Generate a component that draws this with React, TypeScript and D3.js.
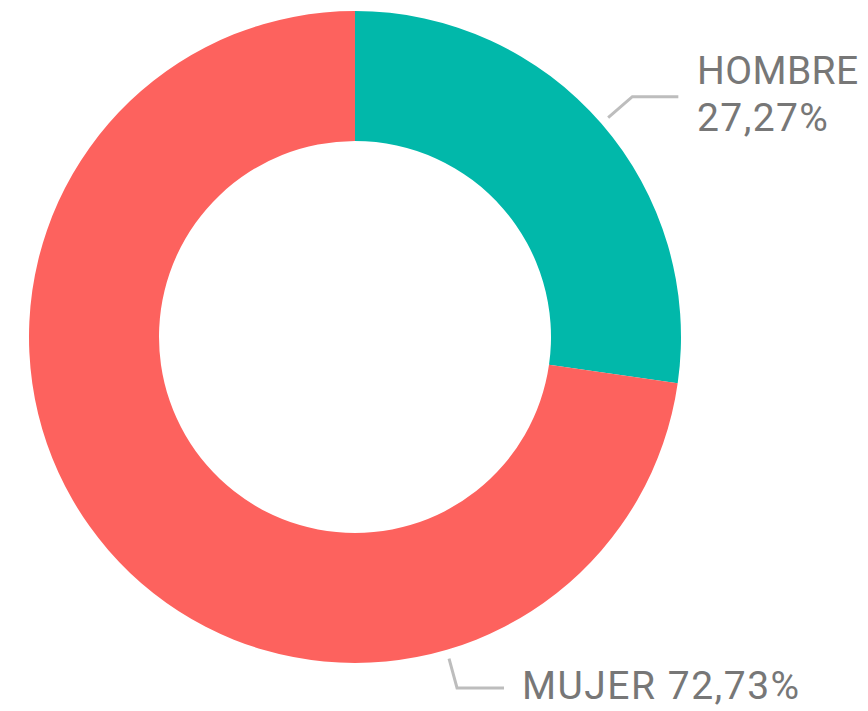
import React from "react";
import * as d3 from "d3";

const categories = ["HOMBRE", "MUJER"];
const values = [27.27, 72.73];
const colors = ["#01B8AA", "#FD625E"];
const labelTexts = [["HOMBRE", "27,27%"], ["MUJER 72,73%"]];

const W = 868;
const H = 711;
const cx = 355;
const cy = 337;
const rOuter = 326;
const rInner = 196;

export default function App() {
  const pie = d3
    .pie<number>()
    .sort(null)
    .value((d) => d)
    .startAngle(0)
    .endAngle(2 * Math.PI);
  const arcs = pie(values);
  const arc = d3.arc<d3.PieArcDatum<number>>().innerRadius(rInner).outerRadius(rOuter);

  const pt = (ang: number, r: number) => [cx + r * Math.sin(ang), cy - r * Math.cos(ang)];

  const a0 = (arcs[0].startAngle + arcs[0].endAngle) / 2;
  const a1 = (163.7 * Math.PI) / 180;
  const s0 = pt(a0, rOuter + 9);
  const e0 = pt(a0, rOuter + 41);
  const s1 = pt(a1, rOuter + 9);
  const e1y = cy + rOuter + 25;
  const e1x = s1[0] + 8;

  return (
    <svg
      width={W}
      height={H}
      style={{ position: "absolute", left: 0, top: 0, background: "#fff" }}
    >
      <g transform={`translate(${cx},${cy})`}>
        {arcs.map((a, i) => (
          <path key={categories[i]} d={arc(a) || ""} fill={colors[i]} />
        ))}
      </g>
      <polyline
        points={`${s0[0]},${s0[1]} ${e0[0]},${e0[1]} ${e0[0] + 46},${e0[1]}`}
        fill="none"
        stroke="#BDBDBD"
        strokeWidth={3}
      />
      <polyline
        points={`${s1[0]},${s1[1]} ${e1x},${e1y} ${e1x + 47},${e1y}`}
        fill="none"
        stroke="#BDBDBD"
        strokeWidth={3}
      />
      <g fill="#777777" fontFamily="Roboto, sans-serif" fontSize={39}>
        <text x={697} y={84} letterSpacing={0.4}>{labelTexts[0][0]}</text>
        <text x={697} y={131} letterSpacing={1.4}>{labelTexts[0][1]}</text>
        <text x={522} y={699} letterSpacing={1.5}>{labelTexts[1][0]}</text>
      </g>
    </svg>
  );
}
